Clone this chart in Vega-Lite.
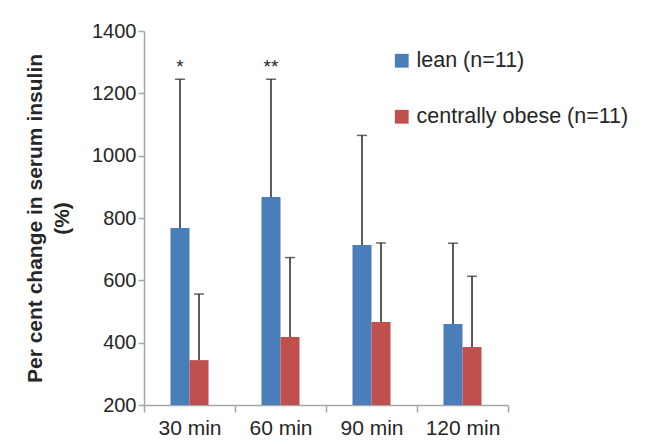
{
  "$schema": "https://vega.github.io/schema/vega-lite/v6.json",
  "autosize": {"type": "none"},
  "padding": {"left": 144, "top": 31, "right": 152, "bottom": 41},
  "width": 364,
  "height": 374,
  "background": "white",
  "config": {
    "view": {"stroke": null},
    "font": "Liberation Sans"
  },
  "data": {
    "values": [
      {"time": "30 min", "group": "lean (n=11)", "mean": 768, "upper": 1245, "sig": "*"},
      {"time": "30 min", "group": "centrally obese (n=11)", "mean": 344, "upper": 556, "sig": ""},
      {"time": "60 min", "group": "lean (n=11)", "mean": 867, "upper": 1245, "sig": "**"},
      {"time": "60 min", "group": "centrally obese (n=11)", "mean": 418, "upper": 673, "sig": ""},
      {"time": "90 min", "group": "lean (n=11)", "mean": 713, "upper": 1065, "sig": ""},
      {"time": "90 min", "group": "centrally obese (n=11)", "mean": 466, "upper": 720, "sig": ""},
      {"time": "120 min", "group": "lean (n=11)", "mean": 460, "upper": 719, "sig": ""},
      {"time": "120 min", "group": "centrally obese (n=11)", "mean": 386, "upper": 613, "sig": ""}
    ]
  },
  "resolve": {"scale": {"x": "independent"}, "axis": {"x": "independent"}},
  "layer": [
    {
      "encoding": {
        "x": {
          "field": "time", "type": "nominal",
          "sort": ["30 min", "60 min", "90 min", "120 min"],
          "scale": {"paddingInner": 0.582, "paddingOuter": 0.291},
          "axis": null
        },
        "xOffset": {
          "field": "group", "type": "nominal",
          "sort": ["lean (n=11)", "centrally obese (n=11)"],
          "scale": {"paddingInner": 0, "paddingOuter": 0}
        }
      },
      "layer": [
        {
          "mark": {"type": "bar"},
          "encoding": {
            "y": {
              "field": "mean", "type": "quantitative",
              "scale": {"domain": [200, 1400], "nice": false, "zero": false},
              "axis": {
                "values": [200, 400, 600, 800, 1000, 1200, 1400],
                "format": "d",
                "grid": false,
                "domainColor": "#a6a6a6", "tickColor": "#a6a6a6", "domainWidth": 1.5, "tickWidth": 1.5,
                "tickSize": 6, "labelPadding": 2, "labelFontSize": 20, "labelColor": "#262626",
                "labelFont": "Liberation Sans",
                "title": ["Per cent change in serum insulin", "(%)"],
                "titleFont": "Liberation Sans", "titleFontSize": 21, "titleFontWeight": "bold",
                "titleColor": "#262626", "titleLineHeight": 27,
                "titleX": -120, "titleY": 187, "titleAlign": "center", "titleBaseline": "top", "titleAngle": -90
              }
            },
            "y2": {"datum": 200},
            "color": {
              "field": "group", "type": "nominal",
              "sort": ["lean (n=11)", "centrally obese (n=11)"],
              "scale": {"range": ["#4a7ebb", "#c0504d"]},
              "legend": {
                "title": null, "orient": "none", "legendX": 247, "legendY": 19,
                "symbolType": "square", "symbolSize": 190, "symbolStrokeWidth": 0,
                "labelFontSize": 21.5, "labelColor": "#262626", "labelFont": "Liberation Sans",
                "labelOffset": 4, "rowPadding": 33, "labelLimit": 0
              }
            }
          }
        },
        {
          "mark": {"type": "rule", "color": "#262626", "strokeWidth": 1.5},
          "encoding": {
            "y": {"field": "mean", "type": "quantitative"},
            "y2": {"field": "upper"}
          }
        },
        {
          "mark": {"type": "tick", "color": "#262626", "thickness": 1.5, "size": 10},
          "encoding": {
            "y": {"field": "upper", "type": "quantitative"}
          }
        },
        {
          "mark": {"type": "text", "baseline": "bottom", "dy": -2, "fontSize": 19, "color": "#262626", "font": "Liberation Sans"},
          "encoding": {
            "y": {"field": "upper", "type": "quantitative"},
            "text": {"field": "sig"}
          }
        }
      ]
    },
    {
      "mark": {"type": "text", "opacity": 0},
      "encoding": {
        "x": {
          "field": "time", "type": "nominal",
          "sort": ["30 min", "60 min", "90 min", "120 min"],
          "scale": {"paddingInner": 0, "paddingOuter": 0},
          "axis": {
            "title": null, "labelAngle": 0, "tickBand": "extent",
            "domainColor": "#a6a6a6", "tickColor": "#a6a6a6", "domainWidth": 1.5, "tickWidth": 1.5,
            "tickSize": 7, "labelPadding": 5, "labelFontSize": 21, "labelColor": "#262626",
            "labelFont": "Liberation Sans"
          }
        },
        "y": {"field": "mean", "type": "quantitative"},
        "text": {"value": ""}
      }
    }
  ]
}
